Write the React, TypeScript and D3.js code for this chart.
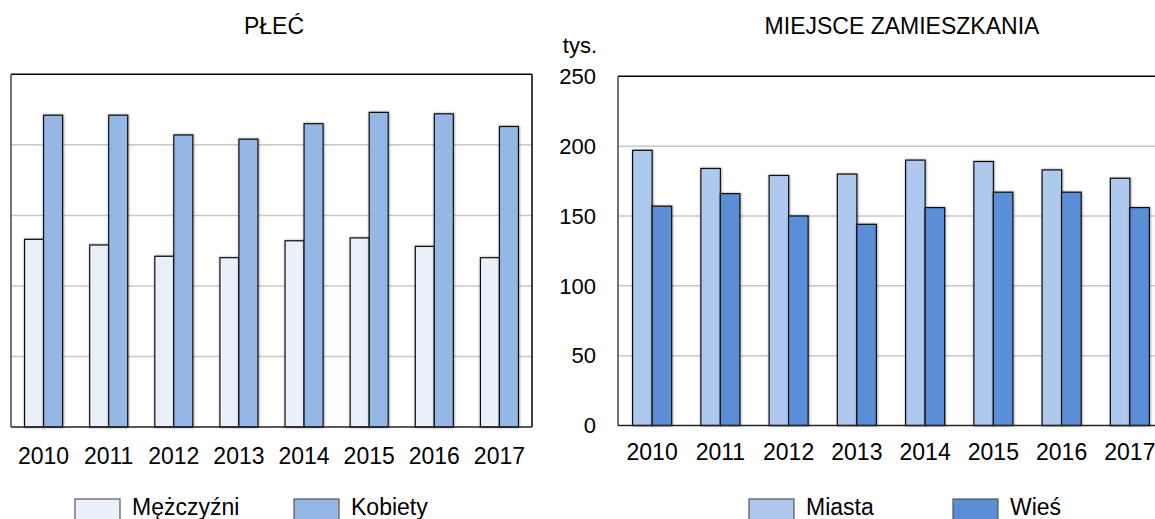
import React, { useRef, useEffect } from 'react';
import * as d3 from 'd3';

const years = ['2010', '2011', '2012', '2013', '2014', '2015', '2016', '2017'];
const mezczyzni = [133, 129, 121, 120, 132, 134, 128, 120];
const kobiety = [221, 221, 207, 204, 215, 223, 222, 213];
const miasta = [197, 184, 179, 180, 190, 189, 183, 177];
const wies = [157, 166, 150, 144, 156, 167, 167, 156];
const yTicks = [0, 50, 100, 150, 200, 250];

const FONT = '"Liberation Sans", Arial, sans-serif';
const WIDTH = 1155;
const HEIGHT = 519;

interface PanelCfg {
  title: string;
  left: number;
  right: number;
  top: number;
  bottom: number;
  barW: number;
  series: { name: string; values: number[]; color: string }[];
  showYAxis: boolean;
  labelY: number;
  legendX: number[];
}

const App: React.FC = () => {
  const svgRef = useRef<SVGSVGElement>(null);

  useEffect(() => {
    if (!svgRef.current) return;
    const svg = d3.select(svgRef.current);
    svg.selectAll('*').remove();

    svg.append('defs').append('filter')
      .attr('id', 'shadow')
      .attr('x', '-20%').attr('y', '-5%').attr('width', '140%').attr('height', '110%')
      .append('feDropShadow')
      .attr('dx', 0.5).attr('dy', 0)
      .attr('stdDeviation', 0.9)
      .attr('flood-color', '#000')
      .attr('flood-opacity', 0.45);

    const panels: PanelCfg[] = [
      {
        title: 'PŁEĆ', left: 11, right: 532, top: 74.3, bottom: 427,
        barW: 19,
        series: [
          { name: 'Mężczyźni', values: mezczyzni, color: '#E9F0FA' },
          { name: 'Kobiety', values: kobiety, color: '#95B7E5' },
        ],
        showYAxis: false, labelY: 464, legendX: [75, 294],
      },
      {
        title: 'MIEJSCE ZAMIESZKANIA', left: 618, right: 1164, top: 76.3, bottom: 425.5,
        barW: 19.5,
        series: [
          { name: 'Miasta', values: miasta, color: '#AEC8EE' },
          { name: 'Wieś', values: wies, color: '#5A8ED7' },
        ],
        showYAxis: true, labelY: 460, legendX: [749, 953],
      },
    ];

    panels.forEach(p => {
      const x = d3.scaleBand<string>().domain(years).range([p.left, p.right]);
      const y = d3.scaleLinear().domain([0, 250]).range([p.bottom, p.top]);
      const g = svg.append('g');

      // title
      g.append('text')
        .attr('x', p.title === 'PŁEĆ' ? 274 : 902)
        .attr('y', 34)
        .attr('text-anchor', 'middle')
        .style('font-family', FONT)
        .style('font-size', '23px')
        .style('fill', '#000')
        .text(p.title);

      // gridlines
      g.selectAll('line.grid')
        .data(yTicks.filter(t => t > 0 && t < 250))
        .enter().append('line')
        .attr('class', 'grid')
        .attr('x1', p.left).attr('x2', p.right)
        .attr('y1', d => y(d)).attr('y2', d => y(d))
        .attr('stroke', '#C8C8C8')
        .attr('stroke-width', 1.5);

      // frame
      g.append('line')
        .attr('x1', p.left).attr('x2', p.right)
        .attr('y1', y(250)).attr('y2', y(250))
        .attr('stroke', '#000').attr('stroke-width', 1.5);
      g.append('line')
        .attr('x1', p.right).attr('x2', p.right)
        .attr('y1', y(250)).attr('y2', y(0))
        .attr('stroke', '#000').attr('stroke-width', 1.5);

      // bars
      const groupW = p.barW * p.series.length;
      p.series.forEach((s, si) => {
        g.selectAll(`rect.s${si}`)
          .data(s.values)
          .enter().append('rect')
          .attr('class', `s${si}`)
          .attr('x', (_, i) => (x(years[i]) as number) + x.bandwidth() / 2 - groupW / 2 + si * p.barW)
          .attr('y', d => y(d))
          .attr('width', p.barW)
          .attr('height', d => y(0) - y(d))
          .attr('fill', s.color)
          .attr('stroke', '#111')
          .attr('stroke-width', 1.2)
          .attr('filter', 'url(#shadow)');
      });

      // axes lines
      g.append('line')
        .attr('x1', p.left).attr('x2', p.left)
        .attr('y1', y(250)).attr('y2', y(0))
        .attr('stroke', '#444').attr('stroke-width', 1.5);
      g.append('line')
        .attr('x1', p.left).attr('x2', p.right)
        .attr('y1', y(0)).attr('y2', y(0))
        .attr('stroke', '#222').attr('stroke-width', 1.5);

      // category labels
      g.selectAll('text.year')
        .data(years)
        .enter().append('text')
        .attr('class', 'year')
        .attr('x', d => (x(d) as number) + x.bandwidth() / 2)
        .attr('y', p.labelY)
        .attr('text-anchor', 'middle')
        .style('font-family', FONT)
        .style('font-size', '23px')
        .style('fill', '#000')
        .text(d => d);

      if (p.showYAxis) {
        g.selectAll('text.ytick')
          .data(yTicks)
          .enter().append('text')
          .attr('class', 'ytick')
          .attr('x', 596)
          .attr('y', d => y(d))
          .attr('dy', '0.35em')
          .attr('text-anchor', 'end')
          .style('font-family', FONT)
          .style('font-size', '22px')
          .style('fill', '#000')
          .text(d => d);
        g.append('text')
          .attr('x', 597)
          .attr('y', 53)
          .attr('text-anchor', 'end')
          .style('font-family', FONT)
          .style('font-size', '22px')
          .style('fill', '#000')
          .text('tys.');
      }

      // legend
      p.series.forEach((s, si) => {
        const lx = p.legendX[si];
        g.append('rect')
          .attr('x', lx).attr('y', 499)
          .attr('width', 45).attr('height', 22)
          .attr('fill', s.color)
          .attr('stroke', '#555')
          .attr('stroke-width', 1.2);
        g.append('text')
          .attr('x', lx + 57)
          .attr('y', 515)
          .style('font-family', FONT)
          .style('font-size', '23px')
          .style('fill', '#000')
          .text(s.name);
      });
    });
  }, []);

  return (
    <svg
      ref={svgRef}
      width={WIDTH}
      height={HEIGHT}
      style={{ position: 'absolute', left: 0, top: 0, background: '#fff' }}
    />
  );
};

export default App;
